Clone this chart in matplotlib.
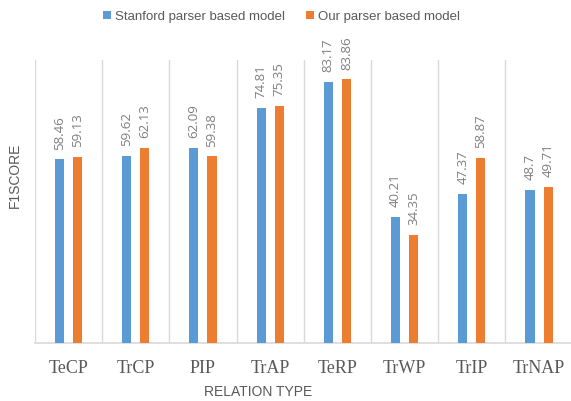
import matplotlib
matplotlib.use("Agg")
import matplotlib.pyplot as plt
import numpy as np

categories = ["TeCP", "TrCP", "PIP", "TrAP", "TeRP", "TrWP", "TrIP", "TrNAP"]
stanford = [58.46, 59.62, 62.09, 74.81, 83.17, 40.21, 47.37, 48.7]
ours = [59.13, 62.13, 59.38, 75.35, 83.86, 34.35, 58.87, 49.71]
series_names = ["Stanford parser based model", "Our parser based model"]

blue = "#5B9BD5"
orange = "#ED7D31"
txt = "#595959"
grid = "#D9D9D9"
sans = ["Open Sans", "DejaVu Sans"]
narrow = ["Liberation Sans", "DejaVu Sans"]

fig = plt.figure(figsize=(5.71, 4.01), dpi=100)
ax = fig.add_axes([0.061, 0.145, 0.942, 0.705])

x = np.arange(len(categories))
w = 0.135
off = 0.135
b1 = ax.bar(x - off, stanford, w, color=blue, label=series_names[0], zorder=3)
b2 = ax.bar(x + off, ours, w, color=orange, label=series_names[1], zorder=3)

for bars, vals in ((b1, stanford), (b2, ours)):
    for r, v in zip(bars, vals):
        ax.annotate("%g" % v, (r.get_x() + r.get_width() / 2, v),
                    xytext=(0, 7), textcoords="offset points",
                    rotation=90, ha="center", va="bottom",
                    fontsize=9.5, color="#7F7F7F", family=sans)

ax.set_xlim(-0.5, len(categories) - 0.5)
ax.set_ylim(0, 90)
ax.set_yticks([])
ax.set_xticks(x)
ax.set_xticklabels(categories, family="Liberation Serif", fontsize=13, color=txt)
ax.tick_params(axis="x", length=0, pad=12)
for b in np.arange(-0.5, len(categories), 1.0):
    ax.axvline(b, color=grid, lw=1, zorder=1)
for s in ["top", "right", "left"]:
    ax.spines[s].set_visible(False)
ax.spines["bottom"].set_color(grid)
ax.spines["bottom"].set_linewidth(1.2)

ax.set_xlabel("RELATION TYPE", family=narrow, fontsize=10, color=txt)
ax.set_ylabel("F1SCORE", family=narrow, fontsize=10, color=txt)
ax.xaxis.set_label_coords(0.416, -0.148)
ax.yaxis.set_label_coords(-0.024, 0.594)

fig.legend(handles=[b1, b2], loc="center", bbox_to_anchor=(0.493, 0.958), ncol=2,
           frameon=False, handlelength=0.6, handleheight=0.6, handletextpad=0.3,
           columnspacing=1.6, prop={"family": narrow, "size": 9.5}, labelcolor=txt)

fig.savefig("out.png", dpi=100)
